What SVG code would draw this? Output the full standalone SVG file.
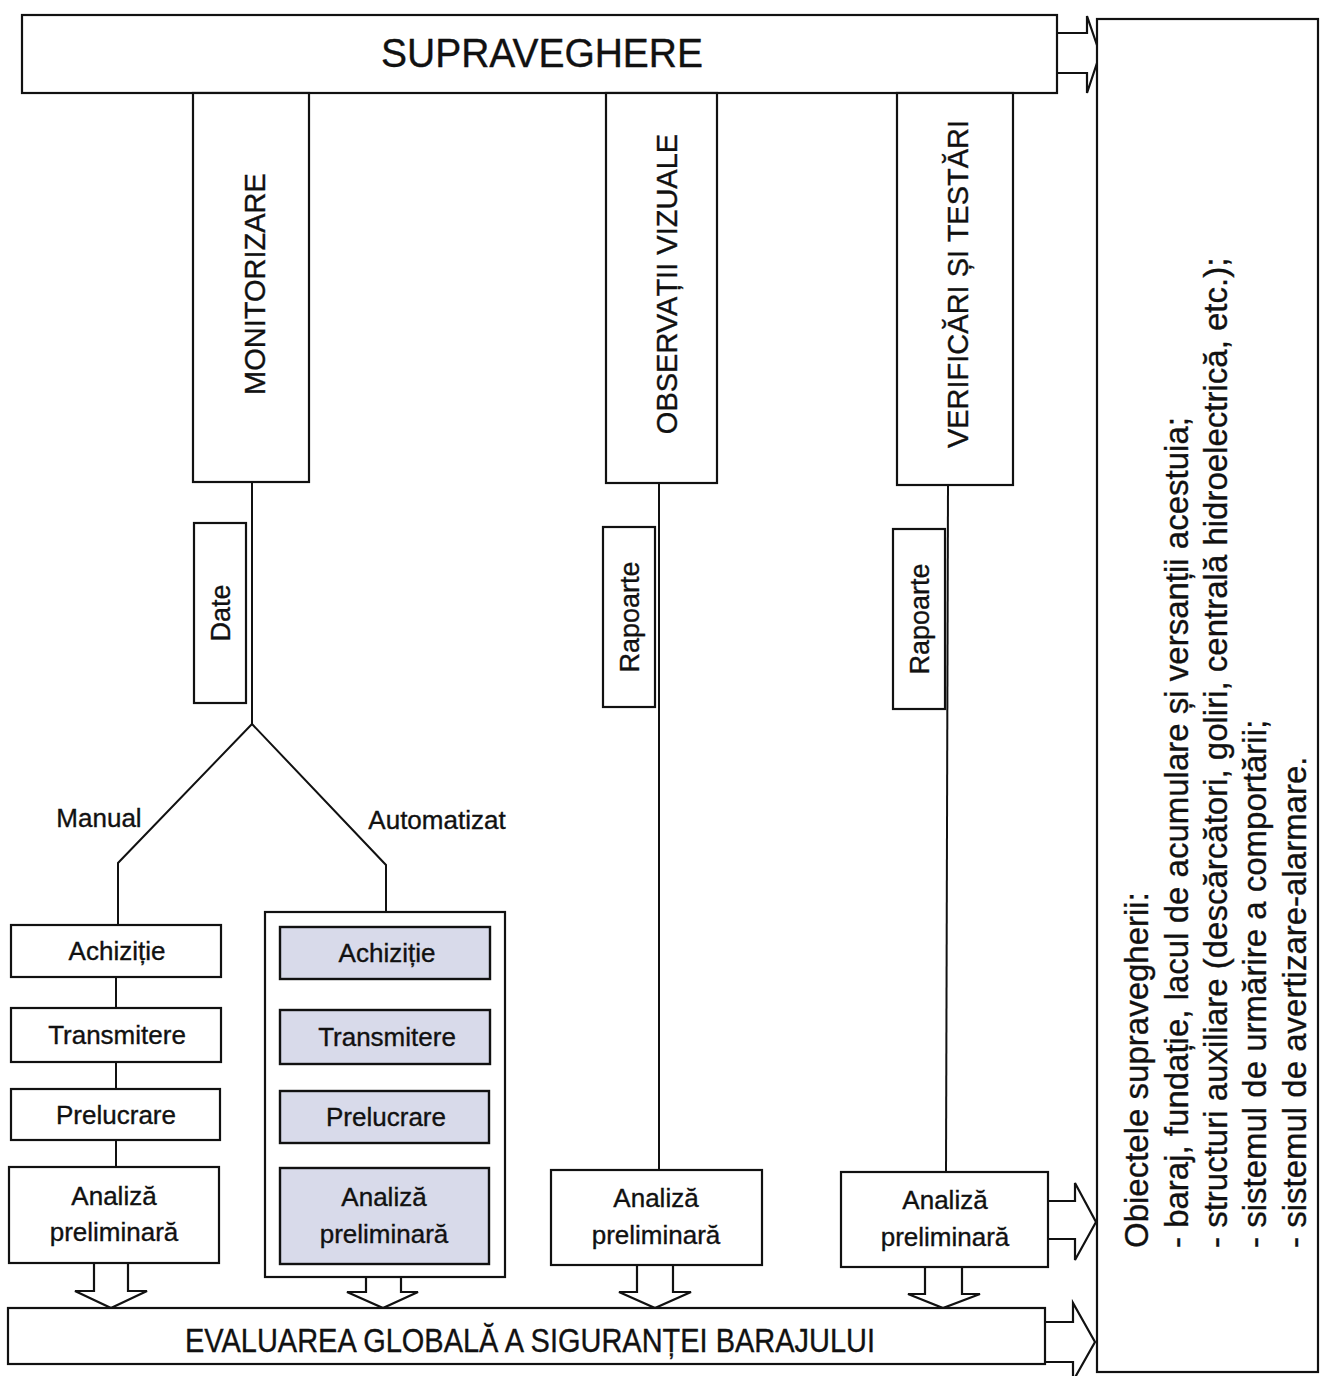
<svg xmlns="http://www.w3.org/2000/svg" width="1326" height="1376" viewBox="0 0 1326 1376">
<style>
.box{fill:#fff;stroke:#111;stroke-width:2.2}
.sh{fill:#d8daea;stroke:#111;stroke-width:2.4}
.ln{fill:none;stroke:#111;stroke-width:2}
.ar{fill:#fff;stroke:#111;stroke-width:2.2;stroke-linejoin:miter}
text{font-family:"Liberation Sans",Arial,sans-serif;fill:#111;stroke:#111;stroke-width:0.35}
.t26{font-size:26px;text-anchor:middle}
.v29{font-size:29px;text-anchor:middle}
.v27{font-size:27px;text-anchor:middle}
.obj{font-size:33px;text-anchor:start}
</style>
<rect width="1326" height="1376" fill="#fff"/>

<g id="connectors">
  <line class="ln" x1="252" y1="482" x2="252" y2="724"/>
  <polyline class="ln" points="118,925 118,863 252,724 386,865 386,927"/>
  <line class="ln" x1="116" y1="977" x2="116" y2="1008"/>
  <line class="ln" x1="116" y1="1062" x2="116" y2="1089"/>
  <line class="ln" x1="116" y1="1140" x2="116" y2="1167"/>
  <line class="ln" x1="386" y1="979" x2="386" y2="1010"/>
  <line class="ln" x1="386" y1="1064" x2="386" y2="1091"/>
  <line class="ln" x1="386" y1="1143" x2="386" y2="1168"/>
  <line class="ln" x1="659" y1="483" x2="659" y2="1170"/>
  <line class="ln" x1="948" y1="485" x2="946" y2="1172"/>
  <polyline class="ar" points="1057,33 1087,33 1087,16 1100,54 1087,93 1087,73 1057,73"/>
  <polyline class="ar" points="1048,1201 1075,1201 1075,1183 1096,1222 1075,1260 1075,1239 1048,1239"/>
  <polyline class="ar" points="1045,1322 1073,1322 1073,1303 1095,1342 1073,1381 1073,1362 1045,1362"/>
  <polyline class="ar" points="94,1263 94,1291 75,1291 111,1308 147,1291 128,1291 128,1263"/>
  <polyline class="ar" points="366,1264 366,1292 347,1292 383,1308 418,1292 401,1292 401,1264"/>
  <polyline class="ar" points="637,1265 637,1292 619,1292 655,1308 691,1292 673,1292 673,1265"/>
  <polyline class="ar" points="925,1267 925,1294 908,1294 943,1308 980,1294 962,1294 962,1267"/>
</g>

<g id="supraveghere">
  <rect class="box" x="22" y="15" width="1035" height="78"/>
  <text x="542" y="67" font-size="40" text-anchor="middle" textLength="322" lengthAdjust="spacingAndGlyphs">SUPRAVEGHERE</text>
</g>

<g id="monitorizare">
  <rect class="box" x="193" y="93" width="116" height="389"/>
  <text class="v29" transform="translate(265,284) rotate(-90)">MONITORIZARE</text>
</g>
<g id="observatii">
  <rect class="box" x="606" y="93" width="111" height="390"/>
  <text class="v29" transform="translate(677,284) rotate(-90)">OBSERVAȚII VIZUALE</text>
</g>
<g id="verificari">
  <rect class="box" x="897" y="93" width="116" height="392"/>
  <text class="v29" transform="translate(968,284) rotate(-90)">VERIFICĂRI ȘI TESTĂRI</text>
</g>

<g id="date">
  <rect class="box" x="194" y="523" width="52" height="180"/>
  <text class="v27" transform="translate(230,613) rotate(-90)">Date</text>
</g>
<g id="rapoarte1">
  <rect class="box" x="603" y="527" width="52" height="180"/>
  <text class="v27" transform="translate(639,617) rotate(-90)">Rapoarte</text>
</g>
<g id="rapoarte2">
  <rect class="box" x="893" y="529" width="52" height="180"/>
  <text class="v27" transform="translate(929,619) rotate(-90)">Rapoarte</text>
</g>

<g id="label-manual"><text x="99" y="827" font-size="26" text-anchor="middle">Manual</text></g>
<g id="label-automatizat"><text x="437" y="829" font-size="26" text-anchor="middle">Automatizat</text></g>

<g id="m-achizitie">
  <rect class="box" x="11" y="925" width="210" height="52"/>
  <text class="t26" x="117" y="960">Achiziție</text>
</g>
<g id="m-transmitere">
  <rect class="box" x="11" y="1008" width="210" height="54"/>
  <text class="t26" x="117" y="1044">Transmitere</text>
</g>
<g id="m-prelucrare">
  <rect class="box" x="11" y="1089" width="209" height="51"/>
  <text class="t26" x="116" y="1124">Prelucrare</text>
</g>
<g id="m-analiza">
  <rect class="box" x="9" y="1167" width="210" height="96"/>
  <text class="t26" x="114" y="1205">Analiză</text>
  <text class="t26" x="114" y="1241">preliminară</text>
</g>

<g id="automat-group">
  <rect class="box" x="265" y="912" width="240" height="365"/>
</g>
<g id="a-achizitie">
  <rect class="sh" x="280" y="927" width="210" height="52"/>
  <text class="t26" x="387" y="962">Achiziție</text>
</g>
<g id="a-transmitere">
  <rect class="sh" x="280" y="1010" width="210" height="54"/>
  <text class="t26" x="387" y="1046">Transmitere</text>
</g>
<g id="a-prelucrare">
  <rect class="sh" x="280" y="1091" width="209" height="52"/>
  <text class="t26" x="386" y="1126">Prelucrare</text>
</g>
<g id="a-analiza">
  <rect class="sh" x="280" y="1168" width="209" height="96"/>
  <text class="t26" x="384" y="1206">Analiză</text>
  <text class="t26" x="384" y="1243">preliminară</text>
</g>

<g id="o-analiza">
  <rect class="box" x="551" y="1170" width="211" height="95"/>
  <text class="t26" x="656" y="1207">Analiză</text>
  <text class="t26" x="656" y="1244">preliminară</text>
</g>
<g id="v-analiza">
  <rect class="box" x="841" y="1172" width="207" height="95"/>
  <text class="t26" x="945" y="1209">Analiză</text>
  <text class="t26" x="945" y="1246">preliminară</text>
</g>

<g id="evaluarea">
  <rect class="box" x="8" y="1308" width="1037" height="56"/>
  <text x="530" y="1352" font-size="34" text-anchor="middle" textLength="690" lengthAdjust="spacingAndGlyphs">EVALUAREA GLOBALĂ A SIGURANȚEI BARAJULUI</text>
</g>

<g id="obiectele">
  <rect class="box" x="1097" y="19" width="221" height="1353"/>
  <text class="obj" transform="translate(1148,1248) rotate(-90)">Obiectele supravegherii:</text>
  <text class="obj" transform="translate(1188,1248) rotate(-90)">- baraj, fundație, lacul de acumulare și versanții acestuia;</text>
  <text class="obj" transform="translate(1227,1248) rotate(-90)">- structuri auxiliare (descărcători, goliri, centrală hidroelectrică, etc.);</text>
  <text class="obj" transform="translate(1266,1248) rotate(-90)">- sistemul de urmărire a comportării;</text>
  <text class="obj" transform="translate(1306,1248) rotate(-90)">- sistemul de avertizare-alarmare.</text>
</g>
</svg>
